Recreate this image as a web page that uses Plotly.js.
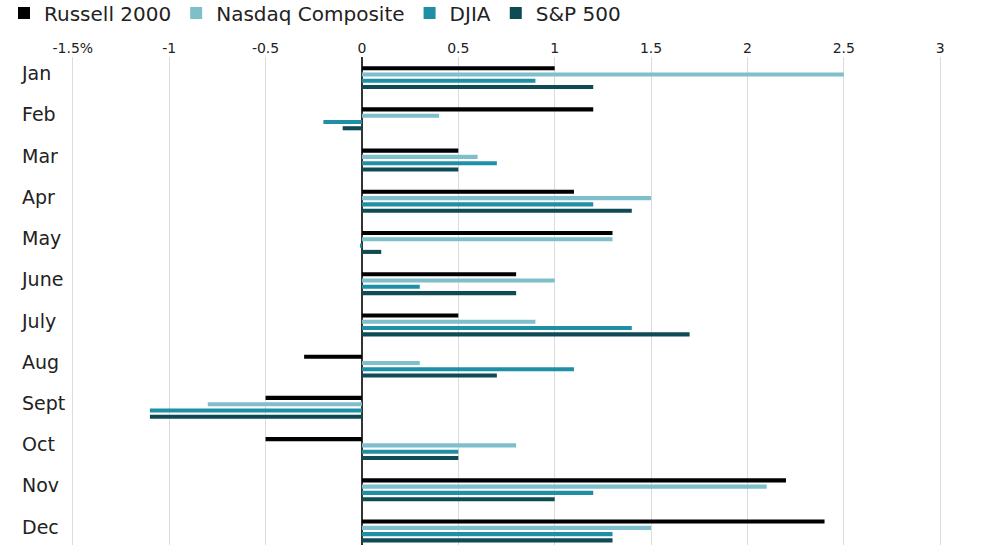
<!DOCTYPE html>
<html>
<head>
<meta charset="utf-8">
<script src="https://cdn.plot.ly/plotly-3.0.1.min.js"></script>
<style>html,body{margin:0;padding:0;background:#fff;}#chart{width:1000px;height:545px;}</style>
</head>
<body>
<div id="chart"></div>
<script>
const months = ["Jan","Feb","Mar","Apr","May","June","July","Aug","Sept","Oct","Nov","Dec"];
const russell = [1.0, 1.2, 0.5, 1.1, 1.3, 0.8, 0.5, -0.3, -0.5, -0.5, 2.2, 2.4];
const nasdaq  = [2.5, 0.4, 0.6, 1.5, 1.3, 1.0, 0.9, 0.3, -0.8, 0.8, 2.1, 1.5];
const djia    = [0.9, -0.2, 0.7, 1.2, -0.01, 0.3, 1.4, 1.1, -1.1, 0.5, 1.2, 1.3];
const sp500   = [1.2, -0.1, 0.5, 1.4, 0.1, 0.8, 1.7, 0.7, -1.1, 0.5, 1.0, 1.3];
const tickVals = [-1.5, -1, -0.5, 0, 0.5, 1, 1.5, 2, 2.5, 3];
const tickText = ["-1.5%", "-1", "-0.5", "0", "0.5", "1", "1.5", "2", "2.5", "3"];

const series = [
  {name: "Russell 2000", values: russell, color: "#000000"},
  {name: "Nasdaq Composite", values: nasdaq, color: "#7fbecb"},
  {name: "DJIA", values: djia, color: "#1f8fa6"},
  {name: "S&P 500", values: sp500, color: "#0e4b54"}
];

const traces = series.map(s => ({
  type: "bar",
  orientation: "h",
  name: s.name,
  y: months,
  x: s.values,
  marker: {color: s.color, line: {width: 0}},
  hoverinfo: "x+name"
}));

const layout = {
  width: 1000,
  height: 545,
  margin: {l: 15, r: 2, t: 57, b: 0},
  paper_bgcolor: "#fff",
  plot_bgcolor: "#fff",
  font: {family: "DejaVu Sans, sans-serif", color: "#222"},
  barmode: "group",
  bargap: 0.39,
  bargroupgap: 0.35,
  showlegend: true,
  legend: {
    orientation: "h",
    x: 0.004, xref: "container", xanchor: "left",
    y: 0.976, yref: "container", yanchor: "middle",
    font: {size: 20, color: "#222"},
    traceorder: "normal",
    itemwidth: 30
  },
  xaxis: {
    side: "top",
    range: [-1.8, 3.3],
    tickvals: tickVals,
    ticktext: tickText,
    showgrid: true,
    gridcolor: "#dcdcdc",
    gridwidth: 1,
    zeroline: true,
    zerolinecolor: "#333",
    zerolinewidth: 1.5,
    ticks: "",
    tickfont: {size: 14, color: "#222"},
    showline: false,
    fixedrange: true
  },
  yaxis: {
    type: "category",
    range: [11.34, -0.5],
    ticklabelposition: "inside",
    ticklabelstandoff: 4,
    ticklabelshift: 4,
    tickfont: {size: 19, color: "#222"},
    ticks: "",
    showgrid: false,
    showline: false,
    zeroline: false,
    fixedrange: true
  }
};

Plotly.newPlot("chart", traces, layout, {displayModeBar: false, staticPlot: true});
</script>
</body>
</html>
